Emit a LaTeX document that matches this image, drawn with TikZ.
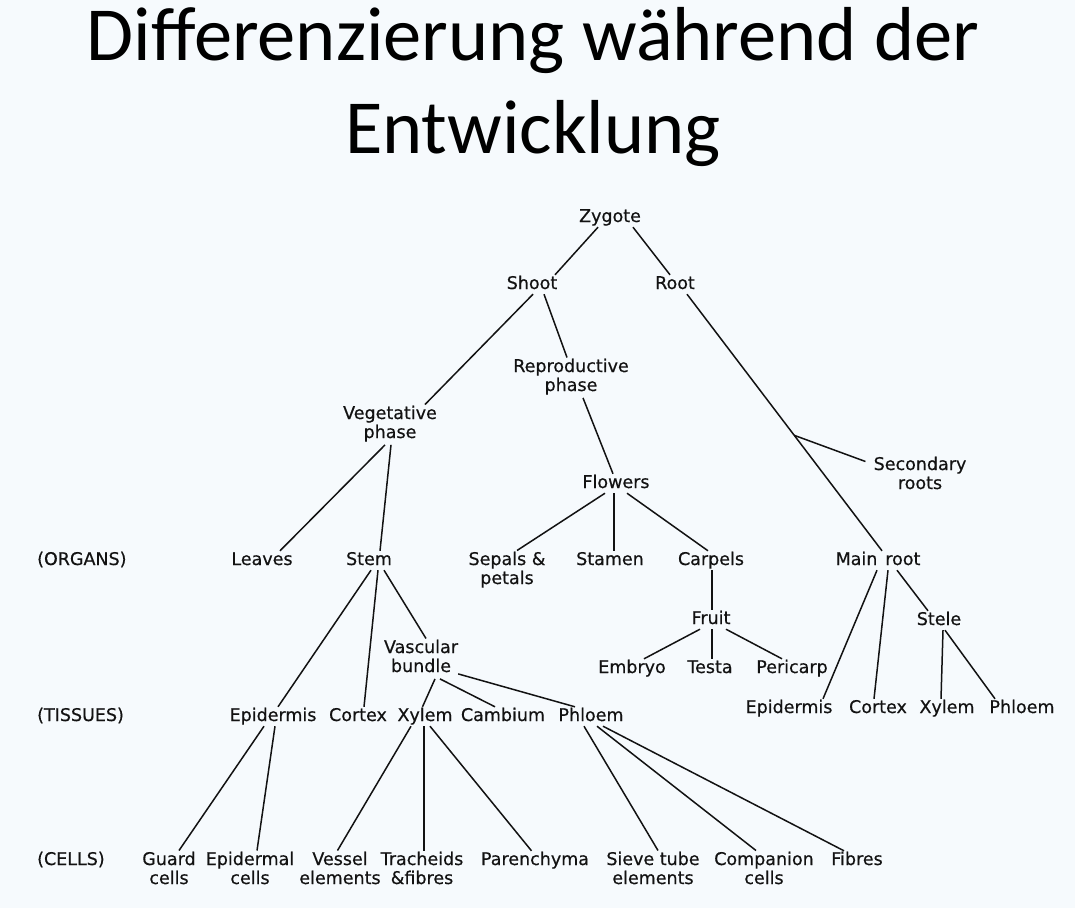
\documentclass[tikz,border=0pt]{standalone}
\usepackage{fontspec}
\setmainfont{DejaVu Sans}
\newfontfamily\treefont{DejaVu Sans}[FakeBold=0.5]
\newfontfamily\titlefont{Carlito}
\usetikzlibrary{calc}
\definecolor{paper}{RGB}{246,250,253}
\definecolor{ink}{RGB}{18,18,18}
% two centred lines, baseline on the first one
\newcommand\tline[2]{\begin{tabular}[t]{@{}c@{}}#1\\#2\end{tabular}}
\begin{document}
\begin{tikzpicture}[x=1pt,y=-1pt,
  lbl/.style={anchor=base, inner xsep=0pt, inner ysep=1pt, text=ink,
    font=\treefont\fontsize{17.5}{19}\selectfont, text height=13pt, text depth=4pt},
  lbl2/.style={anchor=base, inner xsep=0pt, inner ysep=1pt, text=ink,
    font=\treefont\fontsize{17.5}{19}\selectfont},
  rowlbl/.style={lbl, anchor=base west},
  title/.style={anchor=base, inner sep=0pt, text=black,
    font=\titlefont\fontsize{76.5}{93}\selectfont},
  edge/.style={draw=ink, line width=1.5pt}
]
\useasboundingbox (0,0) rectangle (1075,908);
\fill[paper] (0,0) rectangle (1075,908);

% heading
\node[title] (t1) at (533,60) {Differenzierung während der};
\node[title] (t2) at (533,153) {Entwicklung};

% level labels
\node[rowlbl] (organs) at (37,565) {(ORGANS)};
\node[rowlbl] (tissues) at (37,721) {(TISSUES)};
\node[rowlbl] (cells) at (37,865) {(CELLS)};

% upper tree
\node[lbl] (zyg) at (610,222) {Zygote};
\node[lbl] (shoot) at (532,289) {Shoot};
\node[lbl] (root) at (675,289) {Root};
\node[lbl2] (repro) at (571,372) {\tline{Reproductive}{phase}};
\node[lbl2] (veg) at (390,419) {\tline{Vegetative}{phase}};
\node[lbl] (flowers) at (616,488) {Flowers};
\node[lbl2] (sec) at (920,470) {\tline{Secondary}{roots}};

% organs
\node[lbl] (leaves) at (262,565) {Leaves};
\node[lbl] (stem) at (369,565) {Stem};
\node[lbl2] (sepals) at (507,565) {\tline{Sepals \&}{petals}};
\node[lbl] (stamen) at (610,565) {Stamen};
\node[lbl] (carpels) at (711,565) {Carpels};
\node[lbl] (mainroot) at (878,565) {Main\hspace{0.45em}root};

% intermediate
\node[lbl] (fruit) at (711,624) {Fruit};
\node[lbl] (stele) at (939,625) {Stele};
\node[lbl] (embryo) at (632,673) {Embryo};
\node[lbl] (testa) at (710,673) {Testa};
\node[lbl] (pericarp) at (792,673) {Pericarp};
\node[lbl2] (vasc) at (421,653) {\tline{Vascular}{bundle}};

% tissues
\node[lbl] (epiT) at (273,721) {Epidermis};
\node[lbl] (cortT) at (358,721) {Cortex};
\node[lbl] (xylT) at (425,721) {Xylem};
\node[lbl] (camb) at (503,721) {Cambium};
\node[lbl] (phlT) at (591,721) {Phloem};
\node[lbl] (epiR) at (789,713) {Epidermis};
\node[lbl] (cortR) at (878,713) {Cortex};
\node[lbl] (xylR) at (947,713) {Xylem};
\node[lbl] (phlR) at (1022,713) {Phloem};

% cells
\node[lbl2] (guard) at (169,865) {\tline{Guard}{cells}};
\node[lbl2] (epic) at (250,865) {\tline{Epidermal}{cells}};
\node[lbl2] (vessel) at (340,865) {\tline{Vessel}{elements}};
\node[lbl2] (trach) at (422,865) {\tline{Tracheids}{\&fibres}};
\node[lbl] (paren) at (535,865) {Parenchyma};
\node[lbl2] (sieve) at (653,865) {\tline{Sieve tube}{elements}};
\node[lbl2] (comp) at (764,865) {\tline{Companion}{cells}};
\node[lbl] (fibres) at (857,865) {Fibres};

% connectors
\draw[edge] ([xshift=-12pt]zyg.south) -- ([xshift=23pt]shoot.north);
\draw[edge] ([xshift=23pt]zyg.south) -- ([xshift=-5pt]root.north);
\draw[edge] ([xshift=1pt]shoot.south) -- ([xshift=35pt]veg.north);
\draw[edge] ([xshift=12pt]shoot.south) -- ([xshift=-4pt]repro.north);
\draw[edge] ([xshift=12pt]repro.south) -- ([xshift=-3pt]flowers.north);
\draw[edge] ([xshift=-5pt]veg.south) -- ([xshift=18pt]leaves.north);
\draw[edge] ([xshift=1pt]veg.south) -- ([xshift=11pt]stem.north);

\draw[edge] ([xshift=12pt]root.south) -- coordinate[pos=0.55] (fork) ([xshift=4pt]mainroot.north);
\draw[edge] (fork) -- ([xshift=-8pt,yshift=-6pt]sec.north west);

\draw[edge] ([xshift=-11pt]flowers.south) -- ([xshift=10pt]sepals.north);
\draw[edge] ([xshift=-2pt]flowers.south) -- ([xshift=4pt]stamen.north);
\draw[edge] ([xshift=11pt]flowers.south) -- ([xshift=-3pt]carpels.north);
\draw[edge] ([xshift=1pt]carpels.south) -- ([xshift=1pt]fruit.north);
\draw[edge] ([xshift=-11pt]fruit.south) -- ([xshift=12pt]embryo.north);
\draw[edge] ([xshift=1pt]fruit.south) -- ([xshift=2pt]testa.north);
\draw[edge] ([xshift=15pt]fruit.south) -- ([xshift=-10pt]pericarp.north);

\draw[edge] ([xshift=-1pt]mainroot.south) -- ([xshift=34pt]epiR.north);
\draw[edge] ([xshift=10pt]mainroot.south) -- ([xshift=-4pt]cortR.north);
\draw[edge] ([xshift=19pt]mainroot.south) -- ([xshift=-11pt]stele.north);
\draw[edge] ([xshift=4pt]stele.south) -- ([xshift=-6pt]xylR.north);
\draw[edge] ([xshift=6pt]stele.south) -- ([xshift=-27pt]phlR.north);

\draw[edge] ([xshift=2pt]stem.south) -- ([xshift=5pt]epiT.north);
\draw[edge] ([xshift=9pt]stem.south) -- ([xshift=6pt]cortT.north);
\draw[edge] ([xshift=15pt]stem.south) -- ([xshift=5pt]vasc.north);
\draw[edge] ([xshift=14pt]vasc.south) -- ([xshift=-2.5pt]xylT.north);
\draw[edge] ([xshift=19pt]vasc.south) -- ([xshift=-8pt]camb.north);
\draw[edge] ([yshift=5pt]vasc.south east) -- ([xshift=-16pt]phlT.north);

\draw[edge] ([xshift=-9pt]epiT.south) -- ([xshift=10pt]guard.north);
\draw[edge] ([xshift=2pt]epiT.south) -- ([xshift=7pt]epic.north);
\draw[edge] ([xshift=-14pt]xylT.south) -- ([xshift=-2.5pt]vessel.north);
\draw[edge] ([xshift=-1pt]xylT.south) -- ([xshift=2pt]trach.north);
\draw[edge] ([xshift=5pt]xylT.south) -- ([xshift=-3.5pt]paren.north);
\draw[edge] ([xshift=-7pt]phlT.south) -- ([xshift=5pt]sieve.north);
\draw[edge] ([xshift=6pt]phlT.south) -- ([xshift=-8pt]comp.north);
\draw[edge] ([xshift=12pt]phlT.south) -- ([xshift=-13pt]fibres.north);
\end{tikzpicture}
\end{document}
